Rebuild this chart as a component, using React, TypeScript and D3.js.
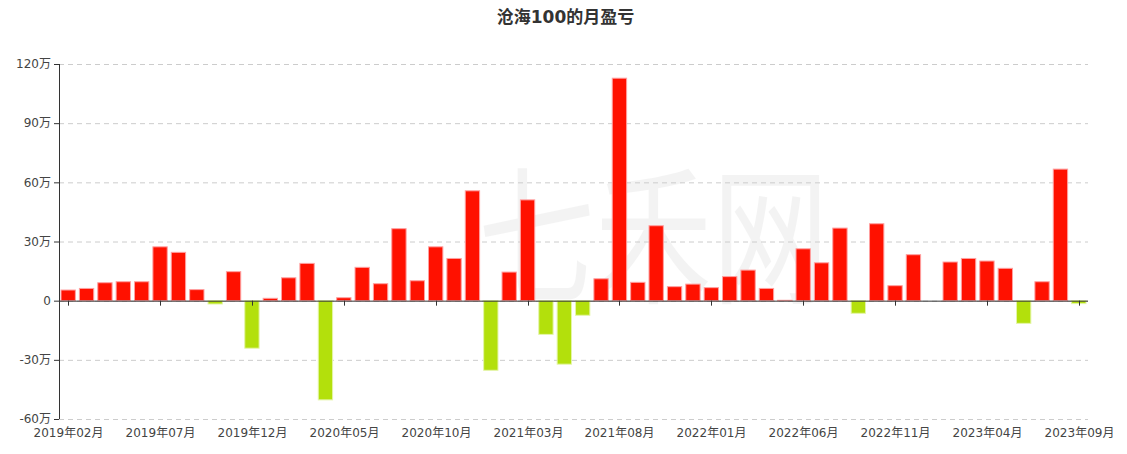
import React from "react";
import * as d3 from "d3";

const months: string[] = [
  "2019年02月","2019年03月","2019年04月","2019年05月","2019年06月","2019年07月","2019年08月","2019年09月","2019年10月","2019年11月","2019年12月",
  "2020年01月","2020年02月","2020年03月","2020年04月","2020年05月","2020年06月","2020年07月","2020年08月","2020年09月","2020年10月","2020年11月","2020年12月",
  "2021年01月","2021年02月","2021年03月","2021年04月","2021年05月","2021年06月","2021年07月","2021年08月","2021年09月","2021年10月","2021年11月","2021年12月",
  "2022年01月","2022年02月","2022年03月","2022年04月","2022年05月","2022年06月","2022年07月","2022年08月","2022年09月","2022年10月","2022年11月","2022年12月",
  "2023年01月","2023年02月","2023年03月","2023年04月","2023年05月","2023年06月","2023年07月","2023年08月","2023年09月",
];

// monthly profit/loss in 万
const values: number[] = [
  5.4, 6.2, 9.1, 9.6, 9.6, 27.3, 24.5, 5.6, -1.7, 14.7, -24.1,
  1.2, 11.6, 18.9, -50.3, 1.5, 16.9, 8.6, 36.5, 10.1, 27.3, 21.4, 55.7,
  -35.3, 14.5, 51.1, -17.1, -32.2, -7.4, 11.1, 112.8, 9.3, 38.0, 7.1, 8.4,
  6.6, 12.2, 15.5, 6.2, 0.2, 26.3, 19.2, 36.8, -6.4, 39.0, 7.6, 23.3,
  0, 19.6, 21.4, 20.1, 16.4, -11.5, 9.6, 66.7, -1.5,
];

const yTicks: number[] = [-60, -30, 0, 30, 60, 90, 120];
const title = "沧海100的月盈亏";

const W = 1127;
const H = 454;
const M = { left: 59, right: 39, top: 64, bottom: 35 };

export default function App() {
  const x = d3.scaleBand<string>().domain(months).range([M.left, W - M.right]);
  const step = x.step();
  const y = d3.scaleLinear().domain([-60, 120]).range([H - M.bottom, M.top]);
  const font = "'DejaVu Sans', 'Noto Sans CJK SC', sans-serif";
  const labelIdx = months.map((_, i) => i).filter((i) => i % 5 === 0);
  const bandX = (m: string) => (x(m) as number) + x.bandwidth() / 2;

  return (
    <svg width={W} height={H} style={{ position: "absolute", left: 0, top: 0 }} fontFamily={font}>
      <rect x={0} y={0} width={W} height={H} fill="#fff" />
      {/* watermark */}
      <g opacity={0.045} fill="#000">
        <text transform="translate(478,292) scale(0.78,1)" fontSize={150}
          fontFamily="'Noto Sans CJK SC', sans-serif">七禾网</text>
      </g>
      <text x={W / 2 + 2} y={23} textAnchor="middle" fontSize={17} fontWeight="bold" fill="#333">
        {title}
      </text>
      {/* grid */}
      {yTicks.map((t) => (
        <line key={"g" + t} x1={M.left} x2={W - M.right} y1={y(t) + 0.5} y2={y(t) + 0.5}
          stroke="#ccc" strokeDasharray="5,4" />
      ))}
      {/* bars */}
      {values.map((v, i) => {
        const m = months[i];
        const bw = step * 0.78;
        const cx = bandX(m);
        const y0 = y(0);
        const y1 = y(v);
        const pos = v >= 0;
        return (
          <rect key={m} x={cx - bw / 2} width={bw} y={Math.min(y0, y1)} height={Math.abs(y1 - y0)}
            fill={pos ? "#ff1100" : "#b3e00c"} stroke={pos ? "#ffa0a0" : "#e4f5a8"} strokeWidth={1} />
        );
      })}
      {/* y axis */}
      <line x1={M.left + 0.5} x2={M.left + 0.5} y1={M.top} y2={H - M.bottom} stroke="#333" />
      {yTicks.map((t) => (
        <g key={"y" + t}>
          <line x1={M.left - 5} x2={M.left} y1={y(t) + 0.5} y2={y(t) + 0.5} stroke="#333" />
          <text x={M.left - 8} y={y(t)} dy="0.35em" textAnchor="end" fontSize={12} fill="#444">
            {t === 0 ? "0" : `${t}万`}
          </text>
        </g>
      ))}
      {/* x axis at zero */}
      <line x1={M.left} x2={W - M.right} y1={y(0) + 0.5} y2={y(0) + 0.5} stroke="#333" />
      {labelIdx.map((i) => {
        const cx = Math.round(bandX(months[i])) + 0.5;
        return (
          <g key={"x" + i}>
            <line x1={cx} x2={cx} y1={y(0)} y2={y(0) + 5} stroke="#333" />
            <text x={cx} y={H - M.bottom + 18} textAnchor="middle" fontSize={12} fill="#444">
              {months[i]}
            </text>
          </g>
        );
      })}
    </svg>
  );
}
